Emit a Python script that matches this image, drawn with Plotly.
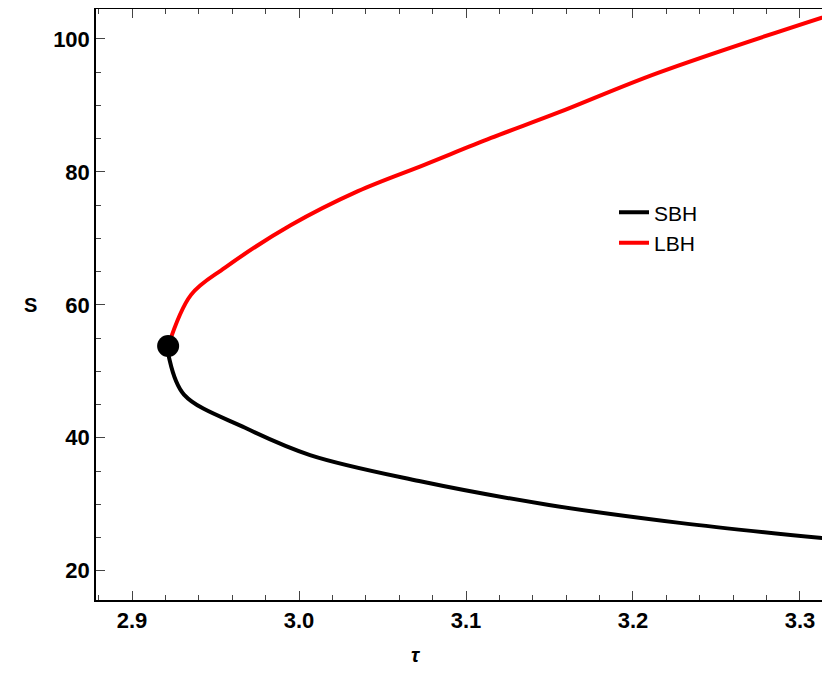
import plotly.graph_objects as go

tau_sbh = [2.9216, 2.9222, 2.9311, 2.9677, 3.0066, 3.0719, 3.1497, 3.228, 3.3216]
s_sbh = [53.8, 52.0, 46.5, 41.5, 37.4, 33.5, 29.9, 27.2, 24.7]
tau_lbh = [2.9216, 2.9353, 2.9557, 2.9952, 3.0353, 3.0754, 3.115, 3.155, 3.215, 3.3216]
s_lbh = [53.8, 61.5, 65.6, 72.0, 77.1, 81.1, 85.1, 88.9, 94.9, 103.9]
tau_c = [2.9216]
s_c = [53.8]

font_b = dict(family='Liberation Sans', size=22, color='black', weight='bold')

fig = go.Figure()
fig.add_trace(go.Scatter(x=tau_sbh, y=s_sbh, mode='lines', name='SBH',
                         line=dict(color='black', width=4, shape='spline', smoothing=1)))
fig.add_trace(go.Scatter(x=tau_lbh, y=s_lbh, mode='lines', name='LBH',
                         line=dict(color='red', width=4, shape='spline', smoothing=1)))
fig.add_trace(go.Scatter(x=tau_c, y=s_c, mode='markers', showlegend=False,
                         marker=dict(color='black', size=22)))

ax = dict(showline=True, mirror='allticks', linecolor='black', linewidth=1.5,
          ticks='inside', showgrid=False, zeroline=False, automargin=False,
          tickfont=font_b)
fig.update_xaxes(range=[2.8784, 3.3216], tickvals=[2.9, 3.0, 3.1, 3.2, 3.3],
                 ticktext=['2.9', '3.0', '3.1', '3.2', '3.3'], ticklen=9,
                 minor=dict(dtick=0.02, ticklen=5, ticks='inside'), **ax)
fig.update_yaxes(range=[15.6, 104.5], tickvals=[20, 40, 60, 80, 100], ticklen=9,
                 minor=dict(dtick=5, ticklen=5, ticks='inside'), **ax)
fig.add_annotation(text='<i>τ</i>', x=0.433, y=-0.115, xref='paper', yref='paper',
                   showarrow=False, font=dict(family='Liberation Sans', size=20, color='black', weight='bold'))
fig.add_annotation(text='S', x=-0.1, y=0.5, xref='paper', yref='paper',
                   showarrow=False, font=dict(family='Liberation Sans', size=20, color='black', weight='bold'))
fig.update_layout(width=830, height=685, plot_bgcolor='white', paper_bgcolor='white',
                  margin=dict(l=88, r=2, t=1, b=93),
                  legend=dict(x=0.70, y=0.69, xanchor='left', yanchor='top',
                              font=dict(family='Liberation Sans', size=21, color='black'),
                              tracegroupgap=45, bgcolor='rgba(0,0,0,0)'))
fig.write_html("out.html")
